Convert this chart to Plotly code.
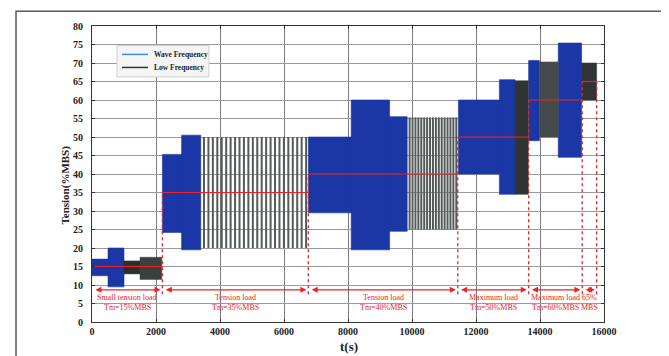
import plotly.graph_objects as go

# ---- data ----
seg_start = [0, 500, 1000, 1500, 2200, 2800, 3430, 6760, 8100, 9300, 9880, 11450, 12730, 13220, 13645, 13980, 14570, 15300]
seg_end   = [500, 1000, 1500, 2180, 2800, 3400, 6760, 8100, 9300, 9850, 11430, 12730, 13220, 13635, 13980, 14570, 15300, 15770]
seg_min   = [12.5, 9.5, 13.0, 11.5, 24.2, 19.5, 20.0, 29.5, 19.5, 24.5, 25.0, 40.0, 34.5, 34.5, 49.0, 50.0, 44.5, 60.0]
seg_max   = [17.0, 20.0, 16.5, 17.5, 45.3, 50.5, 50.0, 50.0, 60.0, 55.5, 55.3, 60.0, 65.5, 65.2, 70.7, 70.3, 75.4, 70.0]
seg_kind  = ["wave", "wave", "low", "low", "wave", "wave", "stripes", "wave", "wave", "wave",
             "stripes", "wave", "wave", "low", "wave", "low", "wave", "low"]
seg_cycles = [0, 0, 0, 0, 0, 0, 24, 0, 0, 0, 17, 0, 0, 0, 0, 0, 0, 0]
low_colors = {2: "#2b302f", 3: "#3a403f", 13: "#2f3534", 15: "#454b4a", 17: "#2f3534"}

boundaries  = [0, 2200, 6760, 11430, 13645, 15320, 15770]
mean_levels = [15, 35, 40, 50, 60, 65]
label_line1 = ["Small tension load", "Tension load", "Tension load", "Maximum load", "Maximum load", "65%"]
label_line2 = ["Tm=15%MBS", "Tm=35%MBS", "Tm=40%MBS", "Tm=50%MBS", "Tm=60%MBS", "MBS"]
arrow_level = 8.7
text_levels = [6.7, 4.0]
vline_bottom = 7.5

BLUE = "#1b37a6"
RED = "#ee2222"
SERIF = "Liberation Serif"

fig = go.Figure()

# wave-frequency bands (dense, appear solid)
wx, wy = [], []
for s, e, mn, mx, k in zip(seg_start, seg_end, seg_min, seg_max, seg_kind):
    if k == "wave":
        wx += [s, e, e, s, s, None]
        wy += [mn, mn, mx, mx, mn, None]
fig.add_trace(go.Scatter(x=wx, y=wy, mode="lines", fill="toself", fillcolor=BLUE,
                         line=dict(width=0.6, color=BLUE), hoverinfo="skip", showlegend=False))

# low-frequency dense bands
for i, (s, e, mn, mx, k) in enumerate(zip(seg_start, seg_end, seg_min, seg_max, seg_kind)):
    if k == "low":
        c = low_colors.get(i, "#333")
        fig.add_trace(go.Scatter(x=[s, e, e, s, s], y=[mn, mn, mx, mx, mn], mode="lines",
                                 fill="toself", fillcolor=c, line=dict(width=0.5, color=c),
                                 hoverinfo="skip", showlegend=False))

# low-frequency oscillations (visible stripes)
for s, e, mn, mx, k, n in zip(seg_start, seg_end, seg_min, seg_max, seg_kind, seg_cycles):
    if k == "stripes":
        sx, sy = [], []
        step = (e - s) / n
        for j in range(n):
            t = s + (j + 0.5) * step
            sx += [t, t, None]
            sy += [mn, mx, None]
        fig.add_trace(go.Scatter(x=sx, y=sy, mode="lines", line=dict(width=2, color="#555b5a"),
                                 hoverinfo="skip", showlegend=False))

# red mean-tension lines
rx, ry = [], []
for i, lv in enumerate(mean_levels):
    rx += [boundaries[i], boundaries[i + 1], None]
    ry += [lv, lv, None]
fig.add_trace(go.Scatter(x=rx, y=ry, mode="lines", line=dict(width=1.2, color=RED),
                         hoverinfo="skip", showlegend=False))

# red dotted vertical separators
vx, vy = [], []
for i in range(1, len(boundaries)):
    top = mean_levels[min(i, len(mean_levels) - 1)]
    top = max(top, mean_levels[i - 1])
    vx += [boundaries[i], boundaries[i], None]
    vy += [vline_bottom, top, None]
fig.add_trace(go.Scatter(x=vx, y=vy, mode="lines", line=dict(width=1.3, color=RED, dash="dot"),
                         hoverinfo="skip", showlegend=False))

annotations = []
# double-headed arrows and labels
for i in range(len(mean_levels)):
    x0, x1 = boundaries[i], boundaries[i + 1]
    annotations.append(dict(x=x1 - 60, y=arrow_level, ax=x0 + 60, ay=arrow_level,
                            xref="x", yref="y", axref="x", ayref="y", text="",
                            showarrow=True, arrowhead=2, arrowside="end+start",
                            arrowsize=1, arrowwidth=1.2, arrowcolor=RED))
    xc = (x0 + x1) / 2
    annotations.append(dict(x=xc, y=text_levels[0], xref="x", yref="y", text=label_line1[i],
                            showarrow=False, font=dict(family=SERIF, size=8, color=RED)))
    annotations.append(dict(x=xc, y=text_levels[1], xref="x", yref="y", text=label_line2[i],
                            showarrow=False, font=dict(family=SERIF, size=8, color=RED)))

# axis titles
annotations.append(dict(x=-0.051, y=0.464, xref="paper", yref="paper", text="Tension(%MBS)",
                        textangle=-90, showarrow=False, xanchor="center", yanchor="middle",
                        font=dict(family=SERIF, size=11, color="#222", weight="bold")))
annotations.append(dict(x=0.502, y=-0.083, xref="paper", yref="paper", text="t(s)",
                        showarrow=False, xanchor="center", yanchor="middle",
                        font=dict(family=SERIF, size=13, color="#222", weight="bold")))

# legend (drawn manually)
annotations.append(dict(x=0.1172, y=0.904, xref="paper", yref="paper", text="Wave Frequency",
                        xanchor="left", yanchor="middle", showarrow=False,
                        font=dict(family=SERIF, size=7.5, color="#222", weight="bold")))
annotations.append(dict(x=0.1172, y=0.860, xref="paper", yref="paper", text="Low Frequency",
                        xanchor="left", yanchor="middle", showarrow=False,
                        font=dict(family=SERIF, size=7.5, color="#222", weight="bold")))

shapes = [
    dict(type="rect", xref="paper", yref="paper", x0=0.0488, x1=0.2285, y0=0.8278, y1=0.9338,
         fillcolor="#f5f5f5", line=dict(color="#cfcfcf", width=1), layer="above"),
    dict(type="line", xref="paper", yref="paper", x0=0.0586, x1=0.1094, y0=0.904, y1=0.904,
         line=dict(color="#3a8fe0", width=1.5), layer="above"),
    dict(type="line", xref="paper", yref="paper", x0=0.0586, x1=0.1094, y0=0.860, y1=0.860,
         line=dict(color="#333333", width=1.5), layer="above"),
    # outer page frame
    dict(type="rect", xref="paper", yref="paper", x0=-0.1484, x1=1.117, y0=-0.25, y1=1.0497,
         line=dict(color="#5a5a5a", width=1.5), fillcolor="rgba(0,0,0,0)", layer="below"),
]

axis_common = dict(showline=True, linecolor="#333", linewidth=1, mirror="ticks",
                   ticks="inside", ticklen=3, tickcolor="#333", showgrid=True, gridwidth=1,
                   zeroline=False, tickformat="d",
                   tickfont=dict(family=SERIF, size=10, color="#222", weight="bold"))

# the page body adds an 8px offset, so the figure is sized/margined to compensate
fig.update_layout(
    width=661, height=348,
    margin=dict(l=84, r=65, t=12, b=34),
    paper_bgcolor="white", plot_bgcolor="white",
    showlegend=False,
    xaxis=dict(range=[0, 16000], dtick=2000, tick0=0, gridcolor="#7a7a7a", **axis_common),
    yaxis=dict(range=[0, 80], dtick=5, tick0=0, gridcolor="#9a9a9a", ticklabelstandoff=6, **axis_common),
    annotations=annotations,
    shapes=shapes,
)

fig.write_html("out.html")
